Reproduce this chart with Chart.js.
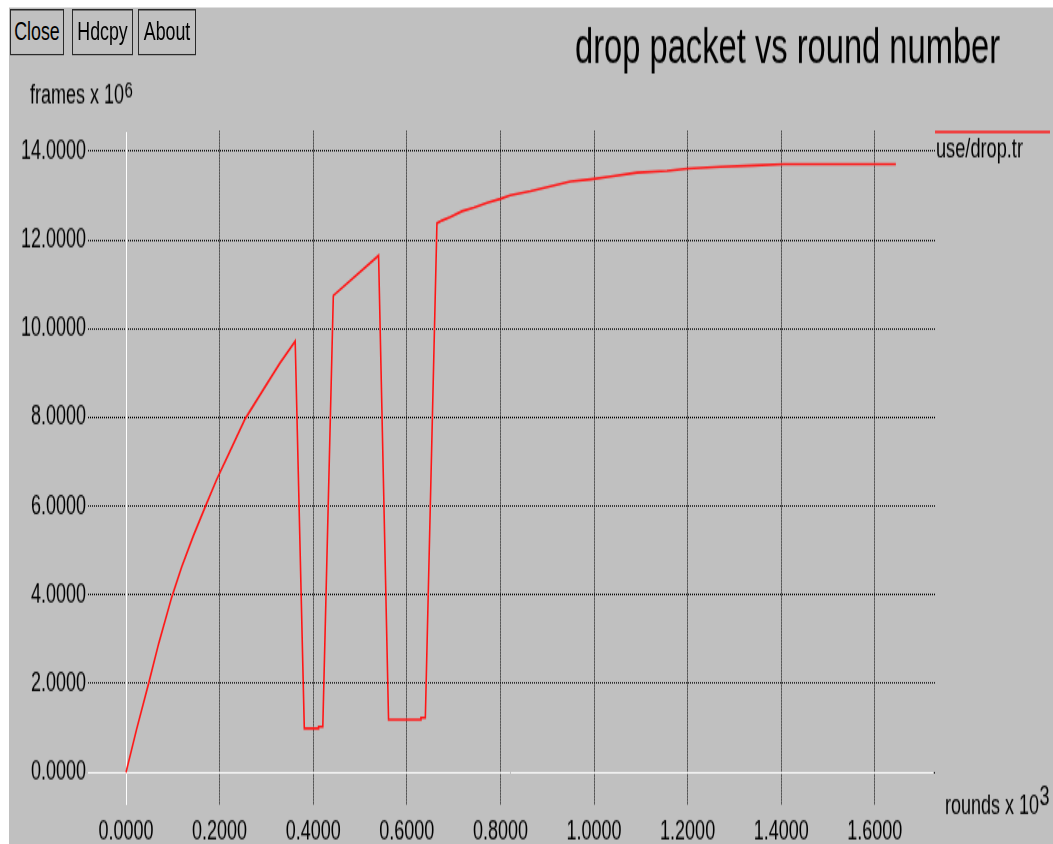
<!DOCTYPE html>
<html lang="en">
<head>
  <meta charset="UTF-8">
  <title>drop packet vs round number</title>
  <script src="https://cdn.jsdelivr.net/npm/chart.js"></script>
  <style>
    html, body { margin: 0; padding: 0; background: #fff; overflow: hidden; }
    /* the reference screenshot is stretched vertically, so the whole frame is drawn flat and scaled */
    #frame { position: absolute; left: 0; top: 0; width: 1053px; height: 563px; transform: scale(1, 1.4991); transform-origin: 0 0; }
    #bg { position: absolute; left: 9px; top: 5.3px; right: 0; bottom: 0; background: #c0c0c0; }
    #plot { position: absolute; left: 0; top: 0; }
    .btn { position: absolute; top: 5.5px; height: 31px; box-sizing: border-box; border: 1.5px solid #2a2a2a; background: #c0c0c0;
           font: 17.8px "Liberation Sans", Arial, sans-serif; color: #000; display: flex; align-items: center; justify-content: center; padding: 0; }
  </style>
</head>
<body>
  <div id="frame">
    <div id="bg"></div>
    <canvas id="plot" width="1053" height="563"></canvas>
    <div class="btn" style="left:10px;width:54px">Close</div>
    <div class="btn" style="left:72px;width:61px">Hdcpy</div>
    <div class="btn" style="left:138px;width:58px">About</div>
  </div>
  <script>
    // rounds (x 10^3) and dropped frames (x 10^6)
    const roundsK = [0, 0.0228, 0.0477, 0.070, 0.0977, 0.119, 0.1435, 0.169, 0.1937, 0.2195, 0.2546, 0.2934, 0.329, 0.3615,
      0.381, 0.4115, 0.4115, 0.4205, 0.443, 0.5397,
      0.561, 0.6303, 0.6303, 0.6396, 0.6644,
      0.675, 0.693, 0.718, 0.743, 0.7715, 0.800, 0.821, 0.864, 0.914, 0.950, 0.9925,
      1.035, 1.092, 1.156, 1.199, 1.2706, 1.342, 1.406, 1.645];
    const framesM = [0, 0.98, 1.98, 2.91, 3.95, 4.63, 5.32, 5.98, 6.60, 7.18, 7.97, 8.63, 9.23, 9.72,
      0.99, 0.99, 1.03, 1.03, 10.75, 11.65,
      1.19, 1.19, 1.23, 1.23, 12.38,
      12.44, 12.52, 12.65, 12.73, 12.84, 12.93, 13.01, 13.10, 13.23, 13.32, 13.37,
      13.43, 13.52, 13.56, 13.61, 13.65, 13.68, 13.71, 13.71];
    const xTicks = [0, 0.2, 0.4, 0.6, 0.8, 1.0, 1.2, 1.4, 1.6];
    const yTicks = [0, 2, 4, 6, 8, 10, 12, 14];
    const seriesName = 'use/drop.tr';

    const FONT = '"Liberation Sans", Arial, Helvetica, sans-serif';
    Chart.defaults.font.family = FONT;
    Chart.defaults.color = '#000';

    const decor = {
      id: 'decor',
      beforeDatasetsDraw(chart) {
        // white zero axes over the dotted grid
        const { ctx, chartArea: a, scales: { x, y } } = chart;
        const y0 = Math.round(y.getPixelForValue(0)) + 0.5;
        const x0 = Math.round(x.getPixelForValue(0)) + 0.5;
        ctx.save();
        ctx.strokeStyle = '#fff';
        ctx.lineWidth = 1;
        ctx.beginPath();
        ctx.moveTo(a.left, y0); ctx.lineTo(a.right - 2, y0);
        ctx.moveTo(x0, a.top); ctx.lineTo(x0, a.bottom);
        ctx.stroke();
        ctx.restore();
      },
      afterDraw(chart) {
        const { ctx, chartArea: a } = chart;
        const ds = chart.data.datasets[0];
        ctx.save();
        ctx.fillStyle = '#000';
        ctx.textBaseline = 'alphabetic';
        ctx.textAlign = 'left';
        // title
        ctx.font = '32.7px ' + FONT;
        ctx.fillText('drop packet vs round number', 575, 42.2);
        // y axis label
        ctx.font = '18px ' + FONT;
        let w = ctx.measureText('frames x 10').width;
        ctx.fillText('frames x 10', 30, 68.9);
        ctx.font = '15px ' + FONT;
        ctx.fillText('6', 30 + w + 0.5, 64.5);
        // x axis label
        ctx.font = '18px ' + FONT;
        w = ctx.measureText('rounds x 10').width;
        ctx.fillText('rounds x 10', a.right + 10, 542.5);
        ctx.fillText('3', a.right + 10 + w + 0.5, 537.2);
        // legend
        ctx.strokeStyle = ds.borderColor;
        ctx.lineWidth = 1.4;
        ctx.beginPath();
        ctx.moveTo(a.right, a.top + 0.6); ctx.lineTo(1050, a.top + 0.6);
        ctx.stroke();
        ctx.font = '18.2px ' + FONT;
        ctx.fillText(ds.label, a.right + 1, 104.5);
        ctx.restore();
      }
    };

    new Chart(document.getElementById('plot'), {
      type: 'scatter',
      data: {
        datasets: [{
          label: seriesName,
          data: roundsK.map((r, i) => ({ x: r, y: framesM[i] })),
          showLine: true,
          borderColor: 'rgb(255,22,22)',
          borderWidth: 1.6,
          pointRadius: 0,
          tension: 0,
          fill: false
        }]
      },
      options: {
        responsive: false,
        animation: false,
        layout: { padding: { left: 0, right: 118, top: 87.4, bottom: 0 } },
        plugins: { legend: { display: false }, title: { display: false }, tooltip: { enabled: false } },
        scales: {
          x: {
            type: 'linear', min: -0.0812, max: 1.7286,
            afterBuildTicks: s => { s.ticks = xTicks.map(v => ({ value: v })); },
            afterFit: s => { s.height = 26; },
            ticks: { callback: v => Number(v).toFixed(4), font: { size: 18 }, padding: 7, maxRotation: 0, autoSkip: false, color: '#000' },
            grid: { color: '#000', lineWidth: 1, drawTicks: false },
            border: { display: false, dash: [1, 1] }
          },
          y: {
            type: 'linear', min: -0.738, max: 14.458,
            afterBuildTicks: s => { s.ticks = yTicks.map(v => ({ value: v })); },
            afterFit: s => { s.width = 88; },
            ticks: { callback: v => Number(v).toFixed(4), font: { size: 18 }, padding: 2, autoSkip: false, color: '#000' },
            grid: { color: '#000', lineWidth: 1, drawTicks: false },
            border: { display: false, dash: [1, 1] }
          }
        }
      },
      plugins: [decor]
    });
  </script>
</body>
</html>
